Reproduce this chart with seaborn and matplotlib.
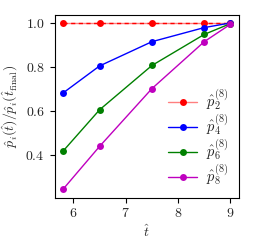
import matplotlib
matplotlib.use("Agg")
import matplotlib.pyplot as plt
import seaborn as sns
import pandas as pd

t_hat = [5.8, 6.5, 7.5, 8.5, 9.0]
p2 = [1.0, 1.0, 1.0, 1.0, 1.0]
p4 = [0.682, 0.805, 0.915, 0.979, 1.0]
p6 = [0.418, 0.606, 0.807, 0.948, 0.997]
p8 = [0.245, 0.440, 0.702, 0.915, 0.994]
labels = [r"$\hat{p}_2^{(8)}$", r"$\hat{p}_4^{(8)}$", r"$\hat{p}_6^{(8)}$", r"$\hat{p}_8^{(8)}$"]
colors = ["red", "blue", "green", "m"]

sns.set_style("ticks")
plt.rcParams["font.family"] = ["cmr10", "DejaVu Serif"]
plt.rcParams["mathtext.fontset"] = "cm"
plt.rcParams["axes.formatter.use_mathtext"] = True
plt.rcParams["font.size"] = 10

fig, ax = plt.subplots(figsize=(2.54, 2.44), dpi=100)

series = [p2, p4, p6, p8]
for vals, lab, col in zip(series, labels, colors):
    df = pd.DataFrame({"t": t_hat, "v": vals})
    sns.lineplot(data=df, x="t", y="v", ax=ax, color=col, marker="o",
                 markersize=5, markeredgewidth=0, linewidth=1.0, label=lab)
    if col == "red":
        red_line = ax.get_lines()[-1]
        red_line.set_color((1, 0, 0, 0.5))
        red_line.set_markerfacecolor("red")
        red_line.set_markeredgecolor("red")
        sns.lineplot(data=df, x="t", y="v", ax=ax, color=col, linestyle=(0, (3, 2.5)),
                     linewidth=1.0, legend=False)

ax.set_xticks([6, 7, 8, 9])
ax.set_yticks([0.4, 0.6, 0.8, 1.0])
ax.set_xlabel(r"$\hat{t}$", labelpad=2)
ax.set_ylabel(r"$\hat{p}_i(\hat{t})/\hat{p}_i(\hat{t}_{\rm final})$", labelpad=4)
for s in ax.spines.values():
    s.set_visible(True)
    s.set_color("black")
    s.set_linewidth(0.8)
ax.tick_params(direction="out", length=3.5, width=0.8, color="black", labelsize=10)

handles, labs = ax.get_legend_handles_labels()
leg = ax.legend(handles[:4], labs[:4], loc="lower right", frameon=False, fontsize=10.5,
                handlelength=2.0, labelspacing=0.02, borderaxespad=0.3,
                handletextpad=0.6)

fig.subplots_adjust(left=0.215, right=0.94, top=0.94, bottom=0.19)
fig.savefig("out.png", dpi=100)
